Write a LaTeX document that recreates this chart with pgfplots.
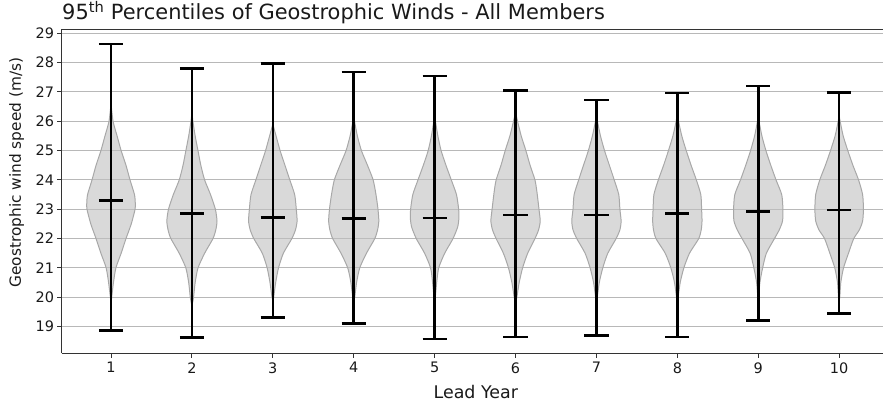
\documentclass[border=0pt]{standalone}
\usepackage{fontspec}
\setmainfont{DejaVu Sans}
\usepackage{pgfplots}
\usepackage{pgfplotstable}
\pgfplotsset{compat=1.18}

\definecolor{gridc}{HTML}{B8B8B8}
\definecolor{vfill}{HTML}{BFBFBF}
\definecolor{vedge}{HTML}{A8A8A8}
\definecolor{spine}{HTML}{333333}

% violin half-widths (x units) along y
\pgfplotstableread{
y w
19.8 0
20.0 0.008
20.5 0.03
21.0 0.06
21.5 0.125
22.0 0.185
22.5 0.25
23.0 0.297
23.2 0.30
23.5 0.29
24.0 0.235
24.5 0.185
25.0 0.125
25.5 0.075
26.0 0.025
26.6 0
}\vA
\pgfplotstableread{
y w
19.7 0
20.0 0.02
20.5 0.04
21.0 0.075
21.5 0.157
22.0 0.26
22.3 0.295
22.6 0.31
23.0 0.29
23.5 0.23
24.0 0.157
24.5 0.11
25.0 0.075
25.5 0.04
26.0 0.012
26.3 0
}\vB
\pgfplotstableread{
y w
19.9 0
20.0 0.01
20.5 0.035
21.0 0.07
21.5 0.13
22.0 0.235
22.3 0.28
22.6 0.30
23.0 0.29
23.5 0.27
24.0 0.21
24.5 0.15
25.0 0.09
25.5 0.04
25.9 0
}\vC
\pgfplotstableread{
y w
19.9 0
20.0 0.012
20.5 0.035
21.0 0.074
21.5 0.157
22.0 0.26
22.3 0.295
22.6 0.31
23.0 0.30
23.5 0.275
24.0 0.24
24.5 0.17
25.0 0.095
25.5 0.045
26.0 0.01
26.2 0
}\vD
\pgfplotstableread{
y w
19.9 0
20.0 0.008
20.5 0.025
21.0 0.05
21.5 0.124
22.0 0.227
22.4 0.285
22.7 0.30
23.0 0.297
23.5 0.27
24.0 0.206
24.5 0.14
25.0 0.08
25.5 0.04
26.0 0.01
26.2 0
}\vE
\pgfplotstableread{
y w
19.8 0
20.0 0.016
20.5 0.045
21.0 0.087
21.5 0.15
22.0 0.24
22.3 0.285
22.6 0.305
23.0 0.29
23.6 0.264
24.0 0.24
24.5 0.18
25.0 0.128
25.5 0.07
26.0 0.025
26.3 0
}\vF
\pgfplotstableread{
y w
19.9 0
20.0 0.01
20.5 0.035
21.0 0.078
21.5 0.14
22.0 0.243
22.3 0.29
22.6 0.305
23.0 0.29
23.5 0.276
24.0 0.22
24.5 0.16
25.0 0.1
25.5 0.05
26.0 0.012
26.2 0
}\vG
\pgfplotstableread{
y w
19.8 0
20.0 0.01
20.5 0.035
21.0 0.08
21.5 0.15
22.0 0.264
22.3 0.295
22.6 0.305
23.0 0.30
23.5 0.29
24.0 0.235
24.5 0.17
25.0 0.11
25.5 0.055
26.0 0.015
26.3 0
}\vH
\pgfplotstableread{
y w
19.9 0
20.0 0.005
20.5 0.02
21.0 0.054
21.5 0.1
22.0 0.2
22.3 0.26
22.6 0.30
23.0 0.305
23.5 0.29
24.0 0.22
24.5 0.155
25.0 0.095
25.5 0.045
26.0 0.01
26.2 0
}\vI
\pgfplotstableread{
y w
19.9 0
20.0 0.008
20.5 0.02
21.0 0.054
21.5 0.115
22.0 0.18
22.3 0.25
22.6 0.29
23.0 0.30
23.5 0.29
24.0 0.24
24.5 0.17
25.0 0.107
25.5 0.05
26.0 0.012
26.2 0
}\vJ

\pgfplotsset{
  violinbody/.style={fill=vfill, fill opacity=0.6, draw=vedge, line width=1bp, smooth, tension=0.4},
  whisk/.style={black, line width=2.6bp, line cap=butt, mark=none},
}
\newcommand{\violin}[2]{%
  \addplot[violinbody] table[x expr=#1-\thisrow{w}, y=y]{#2} -- cycle;
  \addplot[violinbody] table[x expr=#1+\thisrow{w}, y=y]{#2} -- cycle;
}
% \whisker{pos}{left}{right}{min}{median}{max}
\newcommand{\whisker}[6]{%
  \addplot[whisk] coordinates {(#1,#4) (#1,#6)};
  \addplot[whisk] coordinates {(#2,#4) (#3,#4)};
  \addplot[whisk] coordinates {(#2,#5) (#3,#5)};
  \addplot[whisk] coordinates {(#2,#6) (#3,#6)};
}

\begin{document}
\begin{tikzpicture}
\begin{axis}[
  at={(0,0)}, anchor=south west,
  scale only axis, width=821bp, height=323.8bp,
  xmin=0.394, xmax=10.542, ymin=18.09, ymax=29.13,
  xtick={1,2,3,4,5,6,7,8,9,10}, ytick={19,20,21,22,23,24,25,26,27,28,29},
  axis x line*=box, axis y line*=left,
  axis line style={-, line width=1bp, spine},
  tick pos=left, tick align=outside, major tick length=4.5bp,
  tick style={line width=1bp, spine},
  minor tick num=0,
  ymajorgrids, grid style={gridc, line width=1bp},
  /pgf/number format/assume math mode=true,
  ticklabel style={font=\fontsize{14.5}{17}\selectfont, text=black!90},
  xticklabel style={yshift=-1bp},
  clip=false,
]
\violin{1}{\vA}
\violin{2}{\vB}
\violin{3}{\vC}
\violin{4}{\vD}
\violin{5}{\vE}
\violin{6}{\vF}
\violin{7}{\vG}
\violin{8}{\vH}
\violin{9}{\vI}
\violin{10}{\vJ}
\whisker{1}{0.85}{1.15}{18.875}{23.30}{28.64}
\whisker{2}{1.85}{2.15}{18.625}{22.85}{27.81}
\whisker{3}{2.85}{3.15}{19.32}{22.73}{27.97}
\whisker{4}{3.85}{4.15}{19.11}{22.69}{27.68}
\whisker{5}{4.85}{5.15}{18.58}{22.70}{27.55}
\whisker{6}{5.85}{6.15}{18.64}{22.80}{27.06}
\whisker{7}{6.85}{7.15}{18.69}{22.81}{26.72}
\whisker{8}{7.85}{8.15}{18.65}{22.86}{26.97}
\whisker{9}{8.85}{9.15}{19.20}{22.92}{27.20}
\whisker{10}{9.85}{10.15}{19.44}{22.97}{26.98}
\node[anchor=base west, inner sep=0pt, font=\fontsize{21}{24}\selectfont, text=black!90]
  at ([yshift=9.5bp]rel axis cs:0,1) {95\textsuperscript{th} Percentiles of Geostrophic Winds - All Members};
\node[anchor=base west, inner sep=0pt, font=\fontsize{17.5}{20}\selectfont, text=black!90]
  at ([yshift=-44.7bp]axis cs:4.985,18.09) {Lead Year};
\node[anchor=center, rotate=90, inner sep=0pt, font=\fontsize{15.4}{18}\selectfont, text=black!90]
  at ([xshift=-45.3bp]rel axis cs:0,0.558) {Geostrophic wind speed (m/s)};
\end{axis}
\pgfresetboundingbox
\useasboundingbox (-62bp,-50.7bp) rectangle (821bp,353.3bp);
\end{tikzpicture}
\end{document}
